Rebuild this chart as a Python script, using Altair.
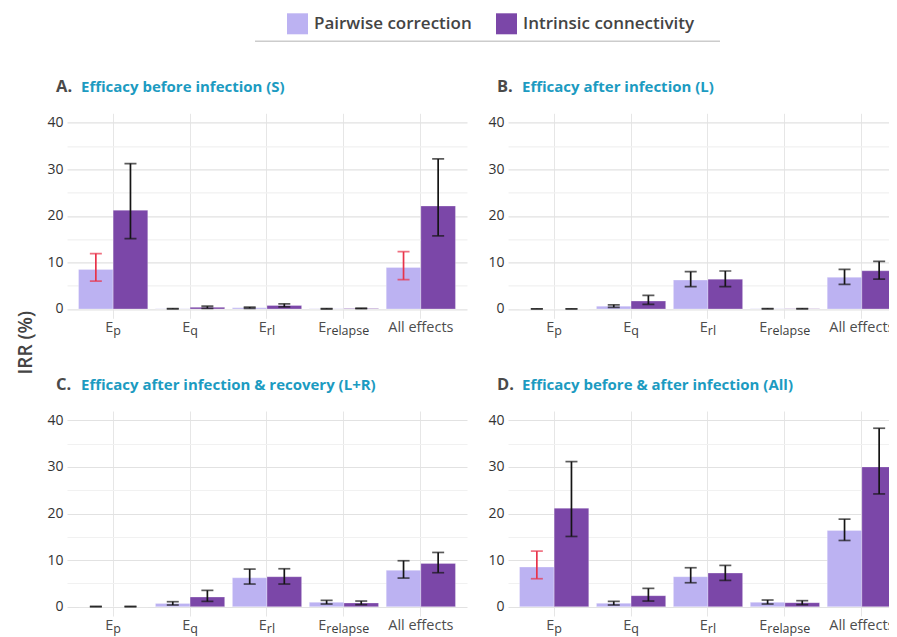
import altair as alt
import pandas as pd

# ---------------- data ----------------
categories = ["Ep", "Eq", "Erl", "Erelapse", "All effects"]
label_main = ["E", "E", "E", "E", "All effects"]
label_sub = ["p", "q", "rl", "relapse", ""]
series = ["Pairwise correction", "Intrinsic connectivity"]
panel_ids = ["A", "B", "C", "D"]
panel_letters = ["A.", "B.", "C.", "D."]
panel_titles = [
    "Efficacy before infection (S)",
    "Efficacy after infection (L)",
    "Efficacy after infection & recovery (L+R)",
    "Efficacy before & after infection (All)",
]
y_ticks = [0, 5, 10, 15, 20, 25, 30, 35, 40]

# Pairwise correction (value, lower CI, upper CI)
A_pw_val = [8.5, 0.05, 0.25, 0.03, 8.9]
A_pw_lo = [6.0, 0.0, 0.15, 0.0, 6.3]
A_pw_hi = [11.9, 0.1, 0.4, 0.08, 12.3]
B_pw_val = [0.0, 0.6, 6.2, 0.05, 6.8]
B_pw_lo = [0.0, 0.35, 4.8, 0.0, 5.3]
B_pw_hi = [0.05, 0.9, 8.0, 0.1, 8.5]
C_pw_val = [0.0, 0.7, 6.2, 0.93, 7.8]
C_pw_lo = [0.0, 0.36, 4.86, 0.57, 6.14]
C_pw_hi = [0.05, 1.07, 8.07, 1.36, 9.86]
D_pw_val = [8.5, 0.71, 6.43, 0.93, 16.36]
D_pw_lo = [6.0, 0.36, 5.14, 0.57, 14.21]
D_pw_hi = [11.93, 1.14, 8.36, 1.43, 18.79]

# Intrinsic connectivity (value, lower CI, upper CI)
A_ic_val = [21.2, 0.35, 0.75, 0.1, 22.1]
A_ic_lo = [15.1, 0.15, 0.45, 0.05, 15.7]
A_ic_hi = [31.2, 0.6, 1.1, 0.2, 32.2]
B_ic_val = [0.0, 1.7, 6.4, 0.05, 8.2]
B_ic_lo = [0.0, 1.0, 4.8, 0.0, 6.4]
B_ic_hi = [0.05, 2.9, 8.15, 0.1, 10.2]
C_ic_val = [0.0, 2.07, 6.43, 0.79, 9.29]
C_ic_lo = [0.0, 1.14, 4.86, 0.43, 7.29]
C_ic_hi = [0.05, 3.5, 8.14, 1.21, 11.64]
D_ic_val = [21.14, 2.36, 7.21, 0.86, 30.0]
D_ic_lo = [15.07, 1.21, 5.64, 0.43, 24.2]
D_ic_hi = [31.14, 3.93, 8.86, 1.29, 38.3]

# error bars flagged (drawn in red) for pairwise correction
A_pw_flag = [1, 0, 0, 0, 1]
B_pw_flag = [0, 0, 0, 0, 0]
C_pw_flag = [0, 0, 0, 0, 0]
D_pw_flag = [1, 0, 0, 0, 0]
no_flag = [0, 0, 0, 0, 0]

pw = {
    "A": (A_pw_val, A_pw_lo, A_pw_hi, A_pw_flag),
    "B": (B_pw_val, B_pw_lo, B_pw_hi, B_pw_flag),
    "C": (C_pw_val, C_pw_lo, C_pw_hi, C_pw_flag),
    "D": (D_pw_val, D_pw_lo, D_pw_hi, D_pw_flag),
}
ic = {
    "A": (A_ic_val, A_ic_lo, A_ic_hi, no_flag),
    "B": (B_ic_val, B_ic_lo, B_ic_hi, no_flag),
    "C": (C_ic_val, C_ic_lo, C_ic_hi, no_flag),
    "D": (D_ic_val, D_ic_lo, D_ic_hi, no_flag),
}

rows = []
for p in panel_ids:
    for s, src in zip(series, (pw, ic)):
        vals, los, his, flags = src[p]
        for c, v, lo, hi, f in zip(categories, vals, los, his, flags):
            rows.append(dict(panel=p, category=c, series=s, value=v, lo=lo, hi=hi, flag=f))
df = pd.DataFrame(rows)
lab_df = pd.DataFrame({"category": categories, "main": label_main, "sub": label_sub})

# ---------------- style ----------------
FONT = "Open Sans"
C_LIGHT = "#bcb2f2"
C_DARK = "#7b47a8"
RED = "#e8334a"
BLACK = "#151515"
TEAL = "#1c9bc1"
GRAY_T = "#4a4a4a"
W, H = 400, 205          # full panel plot size
W_RIGHT = 381            # right column is cut at the window edge

CW = {"E": 0.55, "p": 0.62, "q": 0.62, "r": 0.41, "l": 0.26, "e": 0.56, "a": 0.56, "s": 0.48}
MAIN_FS, SUB_FS = 14.5, 12.5


def tw(s, fs):
    return sum(CW.get(ch, 0.55) for ch in s) * fs


xscale = alt.Scale(domain=categories, range=[0, W], paddingInner=0.1, paddingOuter=0.15)
xaxis = alt.Axis(labels=False, ticks=False, domain=False, title=None, grid=True,
                 gridColor="#e6e6e6", gridWidth=1, bandPosition=0.5)
offscale = alt.Scale(domain=series, paddingInner=0, paddingOuter=0)
yscale = alt.Scale(domain=[-2, 42], nice=False, zero=False)

legend = alt.Legend(orient="none", legendX=220, legendY=-100, direction="horizontal", title=None,
                    symbolType="square", symbolSize=441, symbolStrokeWidth=0, symbolOpacity=1,
                    labelFontSize=17, labelFont=FONT, labelFontWeight=600, labelColor="#444444",
                    labelLimit=400, columnPadding=24, labelOffset=6)


def make_panel(i):
    pid = panel_ids[i]
    right = pid in ("B", "D")
    d = df[df.panel == pid]
    common = dict(values=y_ticks, ticks=False, domain=False, labelPadding=4,
                  labelExpr="datum.value % 10 === 0 ? datum.label : ''",
                  labelFontSize=14, labelColor="#333333", labelFont=FONT,
                  gridColor={"condition": {"test": "datum.value % 10 === 0", "value": "#e2e2e2"},
                             "value": "#f1f1f1"},
                  gridWidth=1.2)
    if pid == "A":
        yaxis = alt.Axis(**common, title="IRR (%)", titleX=-36, titleY=229, titleAngle=270,
                         titleAlign="center", titleBaseline="alphabetic", titleFontSize=19,
                         titleFontWeight=600, titleColor="#444444", titleFont=FONT)
    else:
        yaxis = alt.Axis(**common, title=None)
    xenc = alt.X("category:N", scale=xscale, axis=xaxis)
    xoff = alt.XOffset("series:N", scale=offscale)
    err_color = alt.condition(alt.datum.flag == 1, alt.value(RED), alt.value(BLACK))
    base = alt.Chart(d)

    bars = base.mark_bar(stroke="white", strokeWidth=0.8, strokeOpacity=0.35, clip=True).encode(
        x=xenc, xOffset=xoff,
        y=alt.Y("value:Q", scale=yscale, axis=yaxis),
        y2=alt.datum(0),
        color=alt.Color("series:N", scale=alt.Scale(domain=series, range=[C_LIGHT, C_DARK]), legend=legend),
    )
    rules = base.mark_rule(strokeWidth=1.7, clip=True).encode(
        x=xenc, xOffset=xoff,
        y=alt.Y("lo:Q", scale=yscale, axis=yaxis), y2="hi:Q", color=err_color)
    cap_lo = base.mark_tick(size=12, thickness=1.7, clip=True).encode(
        x=xenc, xOffset=xoff, y=alt.Y("lo:Q", scale=yscale, axis=yaxis), color=err_color)
    cap_hi = base.mark_tick(size=12, thickness=1.7, clip=True).encode(
        x=xenc, xOffset=xoff, y=alt.Y("hi:Q", scale=yscale, axis=yaxis), color=err_color)

    layers = [bars, rules, cap_lo, cap_hi]

    # category labels with subscripts
    for c, m, s in zip(categories, label_main, label_sub):
        lab = alt.Chart(lab_df).transform_filter(alt.datum.category == c)
        if s:
            dx = (tw(m, MAIN_FS) - tw(s, SUB_FS)) / 2
            layers.append(lab.mark_text(align="right", baseline="alphabetic", dx=dx, fontSize=MAIN_FS,
                                        font=FONT, color="#4d4d4d").encode(
                x=xenc, y=alt.value(H + 14.2), text="main:N"))
            layers.append(lab.mark_text(align="left", baseline="alphabetic", dx=dx, fontSize=SUB_FS,
                                        font=FONT, color="#3d3d3d").encode(
                x=xenc, y=alt.value(H + 17), text="sub:N"))
        else:
            layers.append(lab.mark_text(align="center", baseline="alphabetic", fontSize=MAIN_FS,
                                        font=FONT, color="#4d4d4d").encode(
                x=xenc, y=alt.value(H + 14.2), text="main:N"))

    tdf = pd.DataFrame({"letter": [panel_letters[i]], "title": [panel_titles[i]]})
    tchart = alt.Chart(tdf)
    layers.append(tchart.mark_text(align="left", baseline="alphabetic", fontSize=16.5, fontWeight="bold",
                                   font=FONT, color=GRAY_T).encode(
        x=alt.value(-11), y=alt.value(-21), text="letter:N"))
    layers.append(tchart.mark_text(align="left", baseline="alphabetic", fontSize=15, fontWeight="bold",
                                   font=FONT, color=TEAL).encode(
        x=alt.value(14), y=alt.value(-21), text="title:N"))
    if pid == "A":
        layers.append(tchart.mark_rule(color="#cccccc", strokeWidth=1.5).encode(
            x=alt.value(188), x2=alt.value(653), y=alt.value(-72)))

    return alt.layer(*layers).properties(width=W_RIGHT if right else W, height=H)


panels = [make_panel(i) for i in range(4)]
chart = alt.ConcatChart(
    concat=panels, columns=2, spacing={"row": 92.7, "column": 41}, bounds="flush",
    params=[alt.VariableParameter(name="width", value=822),
            alt.VariableParameter(name="height", value=524)],
    autosize=alt.AutoSizeParams(type="none"),
    padding={"left": 59, "top": 105.3, "right": 0, "bottom": 0},
).configure(font=FONT).configure_view(stroke=None)

chart.save("out.html", embed_options={"renderer": "svg", "actions": False})
